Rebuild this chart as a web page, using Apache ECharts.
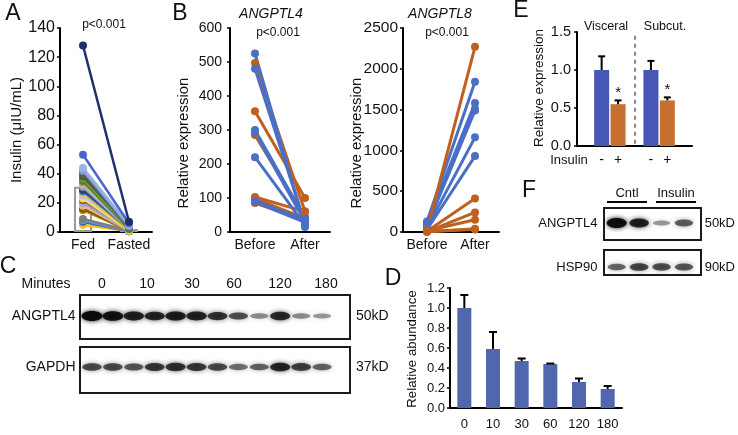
<!DOCTYPE html>
<html><head><meta charset="utf-8">
<script src="https://cdn.jsdelivr.net/npm/echarts@6/dist/echarts.min.js"></script>
<style>html,body{margin:0;padding:0;background:#fff}#c{width:738px;height:435px}</style>
</head><body><div id="c"></div>
<script>
const FONT = '"Liberation Sans", Arial, sans-serif';
const BLUE = '#4a6fc4', ORANGE = '#c0601f';
const E_BLUE = '#4757b5', E_ORANGE = '#c8702f', D_BLUE = '#5067ae';

// ---- Panel A: insulin fed vs fasted
const fedFastedCats = ['Fed', 'Fasted'];
const insulinFed    = [128, 53, 44, 42, 40, 38, 37, 35, 34, 33, 31, 29, 28, 27, 25, 23, 22, 20, 18, 16, 15, 9, 8, 7, 5];
const insulinFasted = [7, 6, 5, 4, 3, 4, 3, 2, 3, 2, 2, 3, 2, 1, 2, 1, 2, 1, 1, 1, 1, 1, 0.5, 0.5, 0.5];
const insulinColors = ['#1f2f6e', '#4a66cc', '#9ab3e3', '#7f9fd8', '#5a5a5a', '#4f6228', '#70ad47', '#548235',
  '#ed7d31', '#a9c4eb', '#a5a5a5', '#264478', '#4472c4', '#ffc000', '#b4c7e7', '#ffd966', '#9e480e', '#8faadc',
  '#f4b183', '#7f6000', '#bf9000', '#7f7f7f', '#5b9bd5', '#3a5fcd', '#ffc000'];
const insulinMean = [31, 2];

// ---- Panel B: ANGPTL4 / ANGPTL8 before vs after
const beforeAfterCats = ['Before', 'After'];
const a4BlueBefore   = [525, 480, 300, 292, 220, 92, 88];
const a4BlueAfter    = [15, 25, 40, 30, 20, 35, 28];
const a4OrangeBefore = [497, 355, 285, 103, 98, 85];
const a4OrangeAfter  = [60, 100, 45, 60, 40, 35];
const a8BlueBefore   = [130, 110, 90, 70, 50, 30];
const a8BlueAfter    = [1840, 1580, 1510, 1490, 1160, 930];
const a8OrangeBefore = [20, 10, 5, 15, 0, 8];
const a8OrangeAfter  = [2270, 410, 240, 150, 40, 30];

// ---- Panel E
const eCats  = ['pad', 'Visceral -', 'Visceral +', 'gap', 'Subcut. -', 'Subcut. +', 'end'];
const eMeans = [null, 1.00, 0.55, null, 1.00, 0.60, null];
const eErrs  = [null, 0.18, 0.05, null, 0.12, 0.04, null];
const eStars = [0, 0, 1, 0, 0, 1, 0];

// ---- Panel D
const dCats  = ['0', '10', '30', '60', '120', '180'];
const dMeans = [1.00, 0.59, 0.47, 0.44, 0.26, 0.19];
const dErrs  = [0.13, 0.17, 0.025, 0.005, 0.035, 0.03];

// ---- Panel C blot (band intensities 0..1)
const cLanes = ['1','2','3','4','5','6','7','8','9','10','11','12'];
const cRows = ['GAPDH', 'ANGPTL4'];
const cSizes = ['37kD', '50kD'];
const cTimes = ['0', '10', '30', '60', '120', '180'];
const cAngptl4 = [1.0, 0.95, 0.85, 0.82, 0.88, 0.84, 0.75, 0.6, 0.35, 0.8, 0.35, 0.3];
const cGapdh   = [0.75, 0.75, 0.68, 0.85, 0.9, 0.85, 0.75, 0.55, 0.62, 0.95, 0.8, 0.62];

// ---- Panel F blot
const fLanes = ['1','2','3','4'];
const fRows = ['HSP90', 'ANGPTL4'];
const fSizes = ['90kD', '50kD'];
const fAngptl4 = [1.0, 0.85, 0.3, 0.55];
const fHsp90   = [0.6, 0.78, 0.72, 0.68];

const chart = echarts.init(document.getElementById('c'), null, {renderer: 'canvas'});

const axLine = {show: true, lineStyle: {color: '#000', width: 2}};
function valueY(gi, max, interval, fs, margin, dec) {
  return {type: 'value', gridIndex: gi, min: 0, max: max, interval: interval,
    axisLine: axLine, axisTick: {show: true, length: 3, lineStyle: {color: '#000', width: 1.5}},
    splitLine: {show: false},
    axisLabel: {fontSize: fs, color: '#111', margin: margin, fontFamily: FONT,
      formatter: v => dec ? v.toFixed(dec) : String(v)}};
}
function catX(gi, data, fs, margin, fmt) {
  return {type: 'category', gridIndex: gi, data: data, axisLine: axLine, axisTick: {show: false},
    axisLabel: {fontSize: fs, color: '#111', margin: margin, fontFamily: FONT, interval: 0, formatter: fmt}};
}
function blotX(gi, data) {
  return {type: 'category', gridIndex: gi, data: data, show: false};
}
function blotY(gi, data, fs, margin, pos) {
  return {type: 'category', gridIndex: gi, data: data, position: pos,
    axisLine: {show: false}, axisTick: {show: false}, splitLine: {show: false},
    axisLabel: {fontSize: fs, color: '#111', margin: margin, fontFamily: FONT, align: pos === 'right' ? 'left' : 'right'}};
}

const series = [];
// A
series.push({type: 'bar', xAxisIndex: 0, yAxisIndex: 0, data: insulinMean, barWidth: 18, z: 1,
  itemStyle: {color: 'rgba(0,0,0,0)', borderColor: '#9a9a9a', borderWidth: 2}});
insulinFed.forEach((v, i) => {
  series.push({type: 'line', xAxisIndex: 0, yAxisIndex: 0, data: [v, insulinFasted[i]],
    symbol: 'circle', symbolSize: 8, z: 2 + (insulinFed.length - i) / 100,
    lineStyle: {width: 2.5, color: insulinColors[i]}, itemStyle: {color: insulinColors[i]}});
});
function pairLines(xi, before, after, color) {
  before.forEach((v, i) => series.push({type: 'line', xAxisIndex: xi, yAxisIndex: xi, data: [v, after[i]],
    symbol: 'circle', symbolSize: 8, lineStyle: {width: 3, color: color}, itemStyle: {color: color}}));
}
pairLines(1, a4OrangeBefore, a4OrangeAfter, ORANGE);
pairLines(1, a4BlueBefore, a4BlueAfter, BLUE);
pairLines(2, a8BlueBefore, a8BlueAfter, BLUE);
pairLines(2, a8OrangeBefore, a8OrangeAfter, ORANGE);

function errRender(capW) {
  return function (params, api) {
    const i = api.value(0), m = api.value(1), e = api.value(2), s = api.value(3);
    const p0 = api.coord([i, m]), p1 = api.coord([i, m + e]);
    const ch = [
      {type: 'line', shape: {x1: p0[0], y1: p0[1], x2: p1[0], y2: p1[1]}, style: {stroke: '#000', lineWidth: 2}},
      {type: 'line', shape: {x1: p1[0] - capW / 2, y1: p1[1], x2: p1[0] + capW / 2, y2: p1[1]}, style: {stroke: '#000', lineWidth: 2}}
    ];
    if (s) ch.push({type: 'text', x: p1[0], y: p1[1] - 8, style: {text: '*', fontSize: 15, fontFamily: FONT, fill: '#111', align: 'center', verticalAlign: 'middle'}});
    return {type: 'group', children: ch};
  };
}
// E
series.push({type: 'bar', xAxisIndex: 3, yAxisIndex: 3, barWidth: 15,
  data: eMeans.map((v, i) => v == null ? '-' : {value: v, itemStyle: {color: eCats[i].endsWith('+') ? E_ORANGE : E_BLUE}}),
  markLine: {silent: true, symbol: ['none', 'none'], label: {show: false},
    lineStyle: {type: [4, 4], color: '#888', width: 2}, data: [[{xAxis: 'gap', yAxis: 1.45}, {xAxis: 'gap', yAxis: 0}]]}});
series.push({type: 'custom', xAxisIndex: 3, yAxisIndex: 3, renderItem: errRender(7), z: 3,
  data: eMeans.map((v, i) => [i, v, eErrs[i], eStars[i]]).filter(d => d[1] != null)});
// D
series.push({type: 'bar', xAxisIndex: 4, yAxisIndex: 4, barWidth: 14, data: dMeans, itemStyle: {color: D_BLUE}});
series.push({type: 'custom', xAxisIndex: 4, yAxisIndex: 4, renderItem: errRender(8), z: 3,
  data: dMeans.map((v, i) => [i, v, dErrs[i], 0])});

function bandRender(wBase) {
  return function (params, api) {
    const p = api.coord([api.value(0), api.value(1)]);
    const k = api.value(2);
    const w = wBase + 4 * k, h = 3 + 7 * k;
    const a = (0.12 + 0.85 * k).toFixed(2);
    return {type: 'ellipse', shape: {cx: p[0], cy: p[1], rx: w / 2, ry: h / 2},
      style: {fill: 'rgba(10,10,10,' + a + ')', shadowBlur: 5, shadowColor: 'rgba(10,10,10,' + a + ')'}};
  };
}
series.push({type: 'custom', xAxisIndex: 5, yAxisIndex: 5, renderItem: bandRender(17),
  data: cAngptl4.map((v, i) => [i, 1, v]).concat(cGapdh.map((v, i) => [i, 0, v * 0.85]))});
series.push({type: 'custom', xAxisIndex: 6, yAxisIndex: 6, renderItem: bandRender(16),
  data: fAngptl4.map((v, i) => [i, 1, v]).concat(fHsp90.map((v, i) => [i, 0, v * 0.85]))});

function txt(x, y, text, o) {
  return {type: 'text', x: x, y: y, z: 20, style: Object.assign({text: text, fontFamily: FONT, fontSize: 14, fill: '#111', align: 'center', verticalAlign: 'middle'}, o || {})};
}
function rot(x, y, text, fs) {
  return {type: 'text', x: x, y: y, rotation: Math.PI / 2, z: 20,
    style: {text: text, fontFamily: FONT, fontSize: fs, fill: '#111', align: 'center', verticalAlign: 'middle'}};
}
function box(x, y, w, h) {
  return {type: 'rect', z: 15, shape: {x: x, y: y, width: w, height: h}, style: {fill: 'none', stroke: '#1a1a1a', lineWidth: 2}};
}
function hline(x1, x2, y) {
  return {type: 'line', z: 15, shape: {x1: x1, y1: y, x2: x2, y2: y}, style: {stroke: '#000', lineWidth: 2}};
}
const timeX = [102, 147, 192, 234, 280, 326];
const graphics = [
  txt(13, 14, 'A', {fontSize: 23}), txt(180, 14, 'B', {fontSize: 23}), txt(8, 267, 'C', {fontSize: 23}),
  txt(393, 279, 'D', {fontSize: 23}), txt(521, 11, 'E', {fontSize: 23}), txt(529, 191, 'F', {fontSize: 23}),
  txt(104, 25, 'p<0.001', {fontSize: 12}),
  txt(271, 14, 'ANGPTL4', {fontSize: 14, fontStyle: 'italic'}), txt(278, 33, 'p<0.001', {fontSize: 12}),
  txt(440, 14, 'ANGPTL8', {fontSize: 14, fontStyle: 'italic'}), txt(447, 33, 'p<0.001', {fontSize: 12}),
  rot(17, 130, 'Insulin (\u03bcIU/mL)', 15), rot(184, 143, 'Relative expression', 15),
  rot(357, 143, 'Relative expression', 15), rot(539, 88, 'Relative expression', 13.5),
  rot(412, 349, 'Relative abundance', 13.3),
  txt(606, 27, 'Visceral', {fontSize: 12.5}), txt(665, 27, 'Subcut.', {fontSize: 12.5}),
  txt(569, 160, 'Insulin', {fontSize: 13}),
  txt(46, 284, 'Minutes', {fontSize: 14}),
  box(80, 295, 270, 44), box(80, 347, 270, 46),
  box(604, 208, 97, 32), box(604, 250, 97, 25),
  txt(627, 193, 'Cntl', {fontSize: 13}), txt(676, 193, 'Insulin', {fontSize: 13}),
  hline(607, 647, 202), hline(656, 696, 202)
];
cTimes.forEach((t, i) => graphics.push(txt(timeX[i], 284, t, {fontSize: 14})));

const option = {
  animation: false,
  backgroundColor: '#fff',
  textStyle: {fontFamily: FONT},
  grid: [
    {left: 60, top: 28, width: 92, height: 204},
    {left: 230, top: 28, width: 100, height: 204},
    {left: 403, top: 28, width: 96, height: 204},
    {left: 577, top: 32, width: 115, height: 114},
    {left: 450, top: 288, width: 172, height: 120},
    {left: 81.5, top: 290.5, width: 251, height: 102},
    {left: 605.5, top: 201, width: 92, height: 88}
  ],
  xAxis: [
    catX(0, fedFastedCats, 14, 6),
    catX(1, beforeAfterCats, 14, 6),
    catX(2, beforeAfterCats, 14, 6),
    catX(3, eCats, 14, 7, v => v.endsWith('-') ? '-' : (v.endsWith('+') ? '+' : '')),
    catX(4, dCats, 13, 10),
    blotX(5, cLanes),
    blotX(6, fLanes)
  ],
  yAxis: [
    valueY(0, 140, 20, 16, 5, 0),
    valueY(1, 600, 100, 14, 8, 0),
    valueY(2, 2500, 500, 15.5, 5, 0),
    valueY(3, 1.5, 0.5, 14.5, 6, 1),
    valueY(4, 1.2, 0.2, 13, 5, 1),
    blotY(5, cRows, 14, 6, 'left'),
    blotY(6, fRows, 13, 8, 'left'),
    blotY(5, cSizes, 14, 23.5, 'right'),
    blotY(6, fSizes, 13, 9.5, 'right')
  ],
  series: series,
  graphic: graphics
};
chart.setOption(option);
</script></body></html>
